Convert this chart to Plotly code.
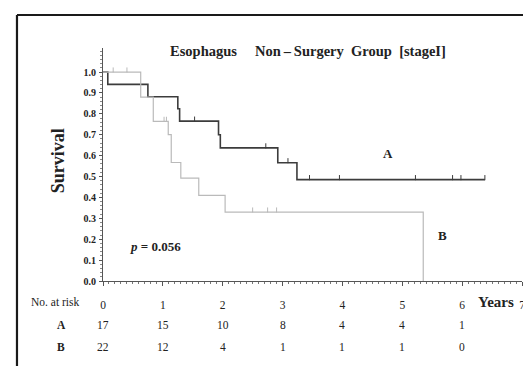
import plotly.graph_objects as go

# ---- data ----
a_times = [0, 0.08, 0.75, 1.25, 1.28, 1.93, 1.96, 2.92, 3.24]
a_surv = [1.0, 0.941, 0.882, 0.824, 0.765, 0.70, 0.637, 0.566, 0.485]
a_end = 6.38
a_censor = [1.53, 2.72, 3.09, 3.45, 3.95, 5.22, 5.84, 5.98, 6.38]

b_times = [0, 0.63, 0.84, 1.09, 1.14, 1.30, 1.60, 2.04, 5.35]
b_surv = [1.0, 0.88, 0.764, 0.70, 0.567, 0.492, 0.41, 0.33, 0.0]
b_end = 5.35
b_censor = [0.17, 0.40, 1.02, 1.06, 2.5, 2.75, 2.9]

risk_years = [0, 1, 2, 3, 4, 5, 6]
risk_a = [17, 15, 10, 8, 4, 4, 1]
risk_b = [22, 12, 4, 1, 1, 1, 0]

x_ticks = [0, 1, 2, 3, 4, 5, 6, 7]
y_ticks = [0.0, 0.1, 0.2, 0.3, 0.4, 0.5, 0.6, 0.7, 0.8, 0.9, 1.0]

title_text = "Esophagus\u00a0\u00a0\u00a0\u00a0\u00a0Non\u2009\u2013\u2009Surgery\u00a0\u00a0Group\u00a0\u00a0[stageI]"

SERIF = "Liberation Serif, Times New Roman, serif"
COL_A = "#3c3c3c"
COL_B = "#bababa"
TXT = "#222222"


def step_value(times, surv, t):
    idx = 0
    for i, tt in enumerate(times):
        if tt <= t:
            idx = i
    return surv[idx]


def step_xy(times, surv, end):
    xs = list(times) + [end]
    ys = list(surv) + [surv[-1]]
    return xs, ys


fig = go.Figure()

for times, surv, end, cens, col, w in [
    (a_times, a_surv, a_end, a_censor, COL_A, 1.6),
    (b_times, b_surv, b_end, b_censor, COL_B, 1.2),
]:
    xs, ys = step_xy(times, surv, end)
    fig.add_trace(go.Scatter(x=xs, y=ys, mode="lines", line=dict(shape="hv", color=col, width=w),
                             showlegend=False, hoverinfo="skip"))
    cy = [step_value(times, surv, t) for t in cens]
    fig.add_trace(go.Scatter(x=cens, y=cy, mode="markers", marker=dict(size=1, color=col),
                             error_y=dict(type="data", symmetric=False, array=[0.022] * len(cens),
                                          arrayminus=[0] * len(cens), width=0, color=col, thickness=1),
                             showlegend=False, hoverinfo="skip"))

ann = []
ann.append(dict(xref="paper", yref="paper", x=0.489, y=0.987, text="<b>" + title_text + "</b>",
                showarrow=False, font=dict(family=SERIF, size=14.5, color=TXT), xanchor="center", yanchor="middle"))
ann.append(dict(xref="paper", yref="paper", x=-0.107, y=0.515, text="<b>Survival</b>", textangle=-90,
                showarrow=False, font=dict(family=SERIF, size=18, color=TXT), xanchor="center", yanchor="middle"))
ann.append(dict(xref="x", yref="y", x=0.885, y=0.163, text="<b><i>p</i> = 0.056</b>",
                showarrow=False, font=dict(family=SERIF, size=13, color=TXT), xanchor="center", yanchor="middle"))
ann.append(dict(xref="x", yref="y", x=4.76, y=0.608, text="<b>A</b>",
                showarrow=False, font=dict(family=SERIF, size=13, color=TXT)))
ann.append(dict(xref="x", yref="y", x=5.68, y=0.22, text="<b>B</b>",
                showarrow=False, font=dict(family=SERIF, size=13, color=TXT)))
ann.append(dict(xref="x", yref="paper", x=6.56, y=-0.09, text="<b>Years</b>",
                showarrow=False, font=dict(family=SERIF, size=15, color=TXT), xanchor="center", yanchor="middle"))
ann.append(dict(xref="paper", yref="paper", x=-0.1146, y=-0.09, text="No. at risk",
                showarrow=False, font=dict(family=SERIF, size=11.5, color=TXT), xanchor="center", yanchor="middle"))
for lab, vals, ypos in [("A", risk_a, -0.189), ("B", risk_b, -0.283)]:
    ann.append(dict(xref="paper", yref="paper", x=-0.1002, y=ypos, text="<b>" + lab + "</b>",
                    showarrow=False, font=dict(family=SERIF, size=11.5, color=TXT), xanchor="center", yanchor="middle"))
    for yr, v in zip(risk_years, vals):
        ann.append(dict(xref="x", yref="paper", x=yr, y=ypos, text=str(v),
                        showarrow=False, font=dict(family=SERIF, size=11.5, color=TXT), xanchor="center", yanchor="middle"))

shapes = [
    dict(type="line", xref="paper", yref="paper", x0=-0.2053, y0=1.1416, x1=1.05, y1=1.1416,
         line=dict(color="#1a1a1a", width=2.2)),
    dict(type="line", xref="paper", yref="paper", x0=-0.2053, y0=1.1416, x1=-0.2053, y1=-0.42,
         line=dict(color="#1a1a1a", width=2.2)),
]

fig.update_layout(
    width=531, height=366,
    margin=dict(l=95, r=17, t=40, b=93),
    paper_bgcolor="white", plot_bgcolor="white",
    annotations=ann, shapes=shapes,
    xaxis=dict(range=[0, 7], tickvals=x_ticks, ticktext=[str(v) for v in x_ticks],
               showgrid=False, zeroline=False, showline=True, linecolor="#555", linewidth=1,
               ticks="outside", ticklen=4, tickcolor="#555", ticklabelstandoff=9,
               tickfont=dict(family=SERIF, size=11.5, color=TXT),
               minor=dict(dtick=0.1, ticks="outside", ticklen=2, tickcolor="#777")),
    yaxis=dict(range=[0, 1.115], tickvals=y_ticks, ticktext=["<b>%.1f</b>" % v for v in y_ticks],
               showgrid=False, zeroline=False, showline=True, linecolor="#555", linewidth=1,
               ticks="outside", ticklen=3, tickcolor="#555", ticklabelstandoff=1,
               tickfont=dict(family=SERIF, size=10, color=TXT),
               minor=dict(dtick=0.02, ticks="outside", ticklen=2, tickcolor="#888")),
)

fig.write_html("out.html")
